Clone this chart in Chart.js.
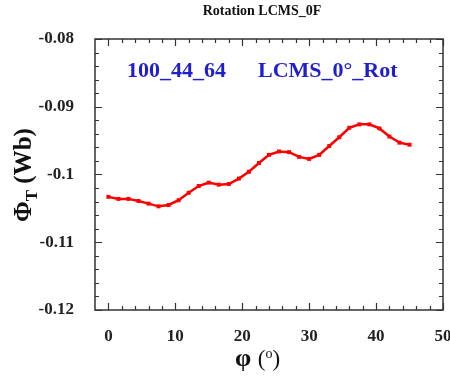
<!DOCTYPE html>
<html>
<head>
<meta charset="utf-8">
<script src="https://cdn.jsdelivr.net/npm/chart.js@4"></script>
<style>
  body { margin: 0; background: #fff; }
  #wrap { width: 450px; height: 376px; position: relative; }
</style>
</head>
<body>
<div id="wrap"><canvas id="rot"></canvas></div>
<script>
// rotation angle (deg) and total flux (Wb)
const angles = [0, 1.5, 3, 4.5, 6, 7.5, 9, 10.5, 12, 13.5, 15, 16.5, 18, 19.5, 21, 22.5,
	24, 25.5, 27, 28.5, 30, 31.5, 33, 34.5, 36, 37.5, 39, 40.5, 42, 43.5, 45];
const flux = [-0.1033, -0.1036, -0.1036, -0.1039, -0.1043, -0.1047, -0.1045, -0.1038,
	-0.1027, -0.1017, -0.1012, -0.1015, -0.1014, -0.1006, -0.0996, -0.0983,
	-0.0971, -0.0966, -0.0967, -0.0974, -0.0977, -0.0971, -0.0958, -0.0945,
	-0.0931, -0.0926, -0.0926, -0.0932, -0.0944, -0.0953, -0.0956];

const xTicks = [0, 10, 20, 30, 40, 50];
const yTicks = [-0.12, -0.11, -0.1, -0.09, -0.08];

const serif = '"Liberation Serif", "DejaVu Serif", serif';
const blue = '#1f1fd0';

// box round the plot, with inward major/minor ticks on all four sides
const framePlugin = {
	id: 'frame',
	afterDatasetsDraw(chart) {
		const { ctx, chartArea: a, scales: { x, y } } = chart;
		ctx.save();
		ctx.strokeStyle = '#333';
		ctx.lineWidth = 1.5;
		ctx.strokeRect(a.left, a.top, a.right - a.left, a.bottom - a.top);
		ctx.lineWidth = 1.2;
		ctx.beginPath();
		for (let v = 0; v <= 50; v += 2) {
			const px = Math.round(x.getPixelForValue(v)) + 0.5;
			const len = v % 10 === 0 ? 7 : 4;
			ctx.moveTo(px, a.bottom); ctx.lineTo(px, a.bottom - len);
			ctx.moveTo(px, a.top); ctx.lineTo(px, a.top + len);
		}
		for (let i = 0; i <= 20; i++) {
			const py = Math.round(y.getPixelForValue(-0.12 + i * 0.002)) + 0.5;
			const len = i % 5 === 0 ? 7 : 4;
			ctx.moveTo(a.left, py); ctx.lineTo(a.left + len, py);
			ctx.moveTo(a.right, py); ctx.lineTo(a.right - len, py);
		}
		ctx.stroke();
		ctx.restore();
	}
};

// titles and the sample label
const textPlugin = {
	id: 'texts',
	afterDraw(chart) {
		const { ctx } = chart;
		ctx.save();
		ctx.fillStyle = '#111';
		ctx.textBaseline = 'alphabetic';

		ctx.font = `bold 14px ${serif}`;
		ctx.textAlign = 'center';
		ctx.fillText('Rotation LCMS_0F', 262, 15);

		ctx.fillStyle = blue;
		ctx.font = `bold 22px ${serif}`;
		ctx.textAlign = 'left';
		ctx.fillText('100_44_64', 127, 77);
		ctx.fillText('LCMS_0\u00b0_Rot', 258, 77);

		// x axis title: φ (°)
		ctx.fillStyle = '#111';
		let xx = 235;
		const by = 366;
		ctx.font = `bold 26px ${serif}`;
		ctx.fillText('\u03c6', xx, by);
		xx += ctx.measureText('\u03c6 ').width;
		ctx.font = `23px ${serif}`;
		ctx.fillText('(', xx, by);
		xx += ctx.measureText('(').width;
		ctx.font = `14px ${serif}`;
		ctx.fillText('o', xx, by - 8);
		xx += ctx.measureText('o').width;
		ctx.font = `23px ${serif}`;
		ctx.fillText(')', xx, by);

		// y axis title: Φ_T (Wb)
		ctx.translate(31, 222);
		ctx.rotate(-Math.PI / 2);
		let tx = 0;
		ctx.font = `bold 25px ${serif}`;
		ctx.fillText('\u03a6', tx, 0);
		tx += ctx.measureText('\u03a6').width;
		ctx.font = `bold 17px ${serif}`;
		ctx.fillText('T', tx, 6);
		tx += ctx.measureText('T').width;
		ctx.font = `bold 25px ${serif}`;
		ctx.fillText(' (Wb)', tx, 0);
		ctx.restore();
	}
};

new Chart(document.getElementById('rot'), {
	type: 'line',
	data: {
		datasets: [{
			data: angles.map((a, i) => ({ x: a, y: flux[i] })),
			borderColor: '#ff0000',
			backgroundColor: '#ff0000',
			borderWidth: 2.5,
			pointStyle: 'rect',
			pointRadius: 2.8,
			pointBorderWidth: 0,
			tension: 0,
		}],
	},
	options: {
		responsive: true,
		maintainAspectRatio: false,
		animation: false,
		layout: { padding: { top: 39, right: 7, left: 0, bottom: 0 } },
		plugins: { legend: { display: false }, tooltip: { enabled: false }, title: { display: false } },
		scales: {
			x: {
				type: 'linear',
				min: -2,
				max: 50,
				grid: { display: false },
				border: { display: false },
				afterBuildTicks: (s) => { s.ticks = xTicks.map(v => ({ value: v })); },
				afterFit: (s) => { s.height = 66; s.paddingLeft = 0; s.paddingRight = 0; },
				ticks: {
					autoSkip: false,
					maxRotation: 0,
					padding: 8,
					color: '#222',
					font: { family: serif, size: 17, weight: 'bold' },
				},
			},
			y: {
				type: 'linear',
				min: -0.12,
				max: -0.08,
				grid: { display: false },
				border: { display: false },
				afterBuildTicks: (s) => { s.ticks = yTicks.map(v => ({ value: v })); },
				afterFit: (s) => { s.width = 95; },
				ticks: {
					padding: 13,
					color: '#222',
					font: { family: serif, size: 17, weight: 'bold' },
					callback: (v) => String(+v.toFixed(3)),
				},
			},
		},
	},
	plugins: [framePlugin, textPlugin],
});
</script>
</body>
</html>
